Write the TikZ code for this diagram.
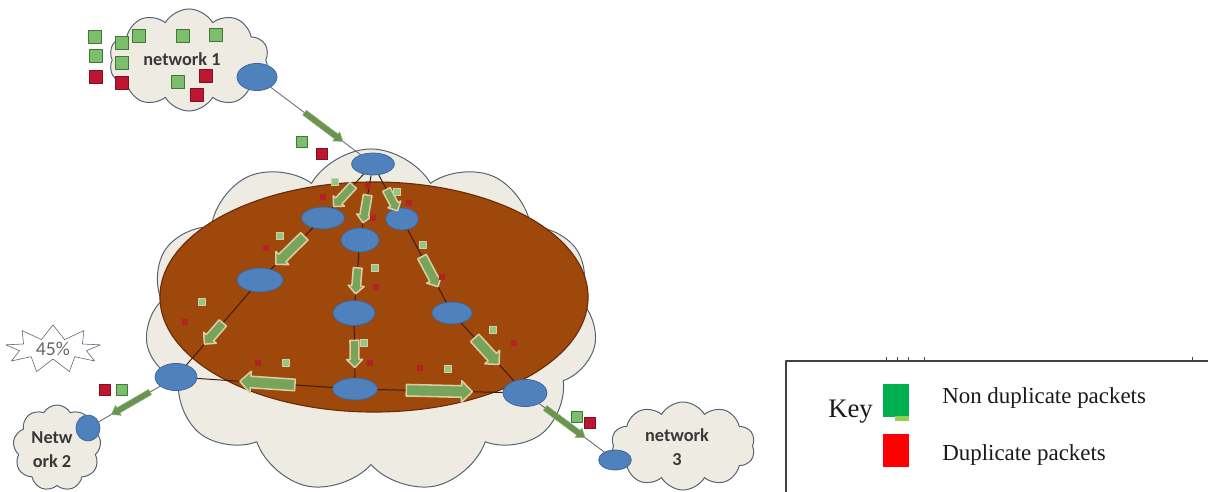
\documentclass[tikz,border=0pt]{standalone}
\usepackage{fontspec}
\setmainfont{Liberation Serif}
\newfontfamily\calibri{Carlito}
\usetikzlibrary{shapes.geometric,shapes.symbols,shapes.arrows}

\definecolor{cloudfill}{RGB}{238,236,226}
\definecolor{cloudline}{RGB}{84,98,114}
\definecolor{core}{RGB}{158,72,12}
\definecolor{coreline}{RGB}{105,45,10}
\definecolor{router}{RGB}{79,129,189}
\definecolor{routerline}{RGB}{60,100,155}
\definecolor{flow}{RGB}{118,164,88}
\definecolor{flowline}{RGB}{218,204,164}
\definecolor{okpkt}{RGB}{124,190,108}
\definecolor{okpktline}{RGB}{64,120,56}
\definecolor{duppkt}{RGB}{188,22,48}
\definecolor{keygreen}{RGB}{0,176,80}
\definecolor{keylime}{RGB}{146,208,80}

\begin{document}
\begin{tikzpicture}[x=0.025cm,y=-0.025cm, line join=round,
    cloudy/.style={cloud, cloud puffs=#1, cloud puff arc=120, aspect=1.5,
      draw=cloudline, fill=cloudfill, line width=0.7pt, inner sep=0pt},
    rt/.style={ellipse, fill=router, draw=routerline, line width=0.5pt, inner sep=0pt},
    link/.style={draw=black!60, line width=0.6pt},
    corelink/.style={draw=coreline!60!black, line width=0.7pt},
    % shaft = 2 inner ysep, head = shaft + 2 head extend
    flowarrow/.style={single arrow, fill=flow, draw=flowline, line width=1.1pt,
      inner xsep=0pt, inner ysep=0.125cm, single arrow head extend=0.125cm,
      sloped, allow upside down, minimum height=#1},
    slimarrow/.style={single arrow, fill=flow!90!black, draw=flow!80, line width=0.3pt,
      inner xsep=0pt, inner ysep=0.07cm, single arrow head extend=0.07cm,
      single arrow tip angle=70, sloped, allow upside down, minimum height=#1},
    good/.style={fill=okpkt, draw=okpktline, line width=0.6pt, inner sep=0pt, minimum size=#1},
    good/.default=0.33cm,
    dup/.style={fill=duppkt, draw=duppkt!70!black, line width=0.6pt, inner sep=0pt, minimum size=#1},
    dup/.default=0.32cm,
    tinygood/.style={fill=okpkt!85!white, draw=flowline, line width=0.5pt, inner sep=0pt, minimum size=0.17cm},
    tinydup/.style={fill=duppkt!80!core, inner sep=0pt, minimum size=0.15cm},
    netlabel/.style={font=\calibri\bfseries\fontsize{13}{17}\selectfont, text=black!78, align=center},
    keybox/.style={inner sep=0pt, minimum width=0.65cm, minimum height=0.825cm},
    keytext/.style={anchor=base west, inner sep=0pt, text=black!90}]
  \useasboundingbox (0,0) rectangle (1208,492);

  % backbone cloud with the core ring on top
  \node[cloudy=11, minimum width=11.3cm, minimum height=8.6cm] (backbone) at (371,321) {};
  \draw[fill=core, draw=coreline, line width=0.8pt] (374,297) ellipse [x radius=5.35cm, y radius=2.875cm];

  % access networks
  \node[cloudy=10, minimum width=4cm, minimum height=2.55cm] (net1) at (189,60) {};
  \node[netlabel] (net1 label) at (182,59) {network 1};
  \node[cloudy=9, minimum width=2.2cm, minimum height=2.15cm] (net2) at (57,448) {};
  \node[netlabel] (net2 label) at (52,450) {Netw\\ork 2};
  \node[cloudy=10, minimum width=3.6cm, minimum height=2.2cm] (net3) at (683,446) {};
  \node[netlabel] (net3 label) at (677,447) {network\\3};

  \node[starburst, starburst points=9, starburst point height=0.35cm, random starburst=0,
    draw=cloudline, fill=white, minimum width=2.4cm, minimum height=1.2cm, inner sep=0pt,
    font=\calibri\fontsize{14}{16}\selectfont, text=black!60] (load) at (53,349) {45\%};

  % routers
  \node[rt, minimum width=1.0cm, minimum height=0.68cm] (r1) at (257,77) {};
  \node[rt, minimum width=0.6cm, minimum height=0.65cm] (r2) at (88,428) {};
  \node[rt, minimum width=0.82cm, minimum height=0.5cm] (r3) at (615,460) {};
  \node[rt, minimum width=1.07cm, minimum height=0.55cm] (top) at (373,164) {};
  \node[rt, minimum width=1.07cm, minimum height=0.55cm] (n1) at (323,218) {};
  \node[rt, minimum width=0.95cm, minimum height=0.6cm] (n2) at (360,240) {};
  \node[rt, minimum width=0.82cm, minimum height=0.55cm] (n3) at (402,219) {};
  \node[rt, minimum width=1.15cm, minimum height=0.6cm] (n4) at (260,280) {};
  \node[rt, minimum width=1.05cm, minimum height=0.62cm] (n5) at (354,313) {};
  \node[rt, minimum width=1.0cm, minimum height=0.55cm] (n6) at (452,313) {};
  \node[rt, minimum width=1.05cm, minimum height=0.68cm] (bl) at (176,377) {};
  \node[rt, minimum width=1.12cm, minimum height=0.55cm] (bm) at (355,389) {};
  \node[rt, minimum width=1.1cm, minimum height=0.68cm] (br) at (525,393) {};

  % links
  \draw[link] (r1) -- (top);
  \draw[link] (bl) -- (r2);
  \draw[link] (br) -- (r3);
  \foreach \a/\b in {top/n1,top/n2,top/n3,n1/n4,n4/bl,n2/n5,n5/bm,n3/n6,n6/br,bm/bl,bm/br}
    \draw[corelink] (\a) -- (\b);

  % packet flow
  \path (r1) -- (top) node[slimarrow=1.2cm, pos=.57] (f0) {};
  \path (top) -- (n1) node[flowarrow=0.72cm, inner ysep=0.09cm, single arrow head extend=0.08cm, pos=.6] (f1) {};
  \path (top) -- (n2) node[flowarrow=0.7cm, inner ysep=0.09cm, single arrow head extend=0.08cm, pos=.6] (f2) {};
  \path (top) -- (n3) node[flowarrow=0.6cm, inner ysep=0.085cm, single arrow head extend=0.075cm, pos=.7] (f3) {};
  \path (n1) -- (n4) node[flowarrow=1.0cm, inner ysep=0.11cm, single arrow head extend=0.1cm, pos=.5] (f4) {};
  \path (n4) -- (bl) node[flowarrow=0.7cm, inner ysep=0.1cm, single arrow head extend=0.09cm, pos=.55] (f5) {};
  \path (n2) -- (n5) node[flowarrow=0.65cm, inner ysep=0.09cm, single arrow head extend=0.09cm, pos=.55] (f6) {};
  \path (n5) -- (bm) node[flowarrow=0.68cm, inner ysep=0.09cm, single arrow head extend=0.09cm, pos=.5] (f7) {};
  \path (n3) -- (n6) node[flowarrow=0.85cm, inner ysep=0.1cm, single arrow head extend=0.09cm, pos=.55] (f8) {};
  \path (n6) -- (br) node[flowarrow=0.9cm, inner ysep=0.12cm, single arrow head extend=0.11cm, pos=.45] (f9) {};
  \path (bm) -- (bl) node[flowarrow=1.38cm, pos=.46] (f10) {};
  \path (bm) -- (br) node[flowarrow=1.65cm, pos=.47] (f11) {};
  \path (bl) -- (r2) node[slimarrow=1.12cm, pos=.45] (f12) {};
  \path (br) -- (r3) node[slimarrow=1.25cm, pos=.37] (f13) {};

  % packets
  \foreach \x/\y [count=\k] in {95/37,122/43,139/36,183/36,216/35,96/56,122/63,178/82}
    \node[good] (src ok\k) at (\x,\y) {};
  \foreach \x/\y [count=\k] in {96/77,122/83,206/76,197/95}
    \node[dup] (src dup\k) at (\x,\y) {};
  \node[good=0.29cm] (in ok) at (302,142) {};
  \node[dup=0.29cm] (in dup) at (322,154) {};
  \node[dup=0.26cm] (out2 dup) at (105,390) {};
  \node[good=0.26cm] (out2 ok) at (122,390) {};
  \node[good=0.26cm] (out3 ok) at (577,417) {};
  \node[dup=0.26cm] (out3 dup) at (590,423) {};
  \foreach \x/\y [count=\k] in {335/182,397/192,280/236,423/245,375/268,202/302,364/343,286/363,448/369,493/330}
    \node[tinygood] (core ok\k) at (\x,\y) {};
  \foreach \x/\y [count=\k] in {368/186,323/197,409/203,373/218,266/248,442/277,376/287,185/322,370/363,258/363,420/368,514/343}
    \node[tinydup] (core dup\k) at (\x,\y) {};

  % key
  \draw[black!75, line width=0.8pt] (786,492) -- (786,361) -- (1208,361);
  \foreach \t in {886,897,908,924,1192}
    \draw[black!75, line width=0.5pt] (\t,361) -- (\t,357);
  \node[keytext, font=\fontsize{19}{22}\selectfont] (key) at (828,417) {Key};
  \node[keybox, fill=keygreen] (key ok) at (896,400.5) {};
  \fill[keylime] (895,416) rectangle (909,421);
  \node[keybox, fill=red] (key dup) at (896,450.5) {};
  \node[keytext, font=\fontsize{16.3}{19}\selectfont] (key ok text) at (942,403) {Non duplicate packets};
  \node[keytext, font=\fontsize{16.3}{19}\selectfont] (key dup text) at (942,460) {Duplicate packets};
\end{tikzpicture}
\end{document}
